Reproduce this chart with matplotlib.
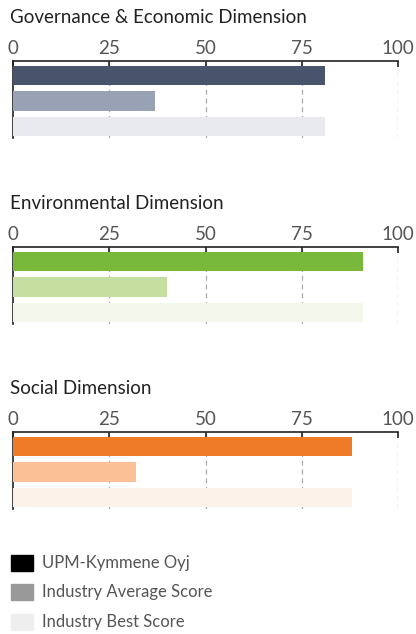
import matplotlib

matplotlib.use("Agg")
import matplotlib.pyplot as plt  # noqa: E402
from matplotlib.patches import Rectangle  # noqa: E402

plt.rcParams["font.family"] = ["Lato", "DejaVu Sans"]

TITLES = ["Governance & Economic Dimension", "Environmental Dimension", "Social Dimension"]
SERIES = ["UPM-Kymmene Oyj", "Industry Average Score", "Industry Best Score"]
# values per panel: company, industry average, industry best
GOVERNANCE = [81, 37, 81]
ENVIRONMENTAL = [91, 40, 91]
SOCIAL = [88, 32, 88]
TICKS = [0, 25, 50, 75, 100]

PANEL_COLORS = [
    ["#48546c", "#98a2b4", "#e9e9f0"],
    ["#78b83a", "#c4dfa0", "#f4f8ec"],
    ["#ef7a28", "#f9c195", "#fdf2ea"],
]
LEGEND_COLORS = ["#000000", "#999999", "#eeeeee"]

W, H = 416, 634
fig = plt.figure(figsize=(W / 100, H / 100), dpi=100)

x0, x1 = 13, 398
panel_tops = [61, 247, 432]
panel_h = 77

for title, vals, cols, top in zip(TITLES, [GOVERNANCE, ENVIRONMENTAL, SOCIAL], PANEL_COLORS, panel_tops):
    ax = fig.add_axes([x0 / W, 1 - (top + panel_h) / H, (x1 - x0) / W, panel_h / H])
    ax.barh(range(len(vals)), vals, height=0.75, color=cols, zorder=3)
    ax.set_xlim(0, 100)
    ax.set_ylim(2.45, -0.57)
    ax.set_yticks([])
    ax.set_xticks(TICKS)
    ax.xaxis.tick_top()
    ax.tick_params(axis="x", direction="in", length=4, width=1.2, color="#222222",
                   labelsize=13.5, labelcolor="#555555", pad=3)
    for t in TICKS[1:]:
        ax.axvline(t, color="#aaaaaa", lw=0.9, ls=(0, (4, 3)), zorder=1)
    for s in ["right", "bottom"]:
        ax.spines[s].set_visible(False)
    for s in ["top", "left"]:
        ax.spines[s].set_color("#222222")
        ax.spines[s].set_linewidth(1.2)
    ax.patch.set_alpha(0)
    fig.text(10 / W, 1 - (top - 38) / H, title, fontsize=13.5, color="#222222", va="baseline")

leg_tops = [555, 584, 614]
for name, col, ty in zip(SERIES, LEGEND_COLORS, leg_tops):
    fig.patches.append(Rectangle((11 / W, 1 - (ty + 16) / H), 22 / W, 16 / H,
                                 transform=fig.transFigure, color=col, figure=fig))
    fig.text(42 / W, 1 - (ty + 8) / H, name, fontsize=12, color="#555555", va="center")

fig.savefig("out.png", dpi=100)
